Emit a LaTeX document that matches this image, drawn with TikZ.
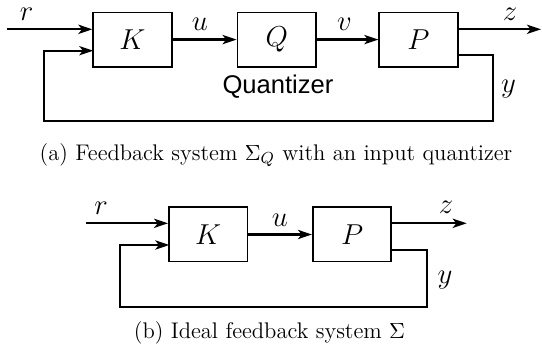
\documentclass[tikz,border=0pt]{standalone}
\usepackage{fontspec}
\newfontfamily\qfont{Liberation Sans}
\usetikzlibrary{arrows.meta}
\begin{document}
\begin{tikzpicture}[x=0.5pt,y=-0.5pt,
  blk/.style={draw,line width=0.9pt,minimum width=39.2pt,minimum height=27.1pt,inner sep=0pt,font=\Large},
  arr/.style={line width=1.1pt,-{Stealth[length=7pt,width=4.6pt,inset=1.8pt]}},
  lbl/.style={inner sep=0pt,font=\fontsize{13.5}{15}\selectfont},
  captxt/.style={inner sep=0pt,font=\fontsize{11.3}{13}\selectfont}]
\useasboundingbox (0,0) rectangle (542,358);
% (a)
\node[blk] (K) at (132.5,39.6) {$K$};
\node[blk] (Q) at (276.7,39.6) {$Q$};
\node[blk] (P) at (418.5,39.6) {$P$};
\coordinate (rin) at (6.7,29.3);
\coordinate (zout) at (541,29.3);
\coordinate (yout) at (457.7,55);
\coordinate (c1) at (493.3,120.7);
\coordinate (c2) at (44,50.7);
\coordinate (fbin) at (93.3,50.7);
\draw[arr] (rin) -- (rin -| K.west);
\draw[arr] (K) -- (Q);
\draw[arr] (Q) -- (P);
\draw[arr] (zout -| P.east) -- (zout);
\draw[arr] (yout) -| (c1) -| (c2) -- (fbin);
\node[lbl] (lr) at (26.7,14) {$r$};
\node[lbl] (lu) at (200,24) {$u$};
\node[lbl] (lv) at (344.5,24) {$v$};
\node[lbl] (lz) at (510,14) {$z$};
\node[lbl] (ly) at (508.5,89) {$y$};
\node[inner sep=0pt,anchor=base,font=\qfont\fontsize{12.8}{15}\selectfont] (qt) at (278,93.3) {Quantizer};
\node[captxt] (capa) at (276,155) {(a) Feedback system $\Sigma_Q$ with an input quantizer};
% (b)
\node[blk] (K2) at (208.2,234.5) {$K$};
\node[blk] (P2) at (352.1,234.5) {$P$};
\coordinate (rin2) at (86,223.3);
\coordinate (zout2) at (466.7,223.3);
\coordinate (yout2) at (391.5,250);
\coordinate (d1) at (426.7,306.7);
\coordinate (d2) at (120,245);
\coordinate (fbin2) at (169.3,245);
\draw[arr] (rin2) -- (rin2 -| K2.west);
\draw[arr] (K2) -- (P2);
\draw[arr] (zout2 -| P2.east) -- (zout2);
\draw[arr] (yout2) -| (d1) -| (d2) -- (fbin2);
\node[lbl] (lr2) at (101,208.5) {$r$};
\node[lbl] (lu2) at (280,220.7) {$u$};
\node[lbl] (lz2) at (446,207) {$z$};
\node[lbl] (ly2) at (445,280) {$y$};
\node[captxt] (capb) at (269.5,333) {(b) Ideal feedback system $\Sigma$};
\end{tikzpicture}
\end{document}
